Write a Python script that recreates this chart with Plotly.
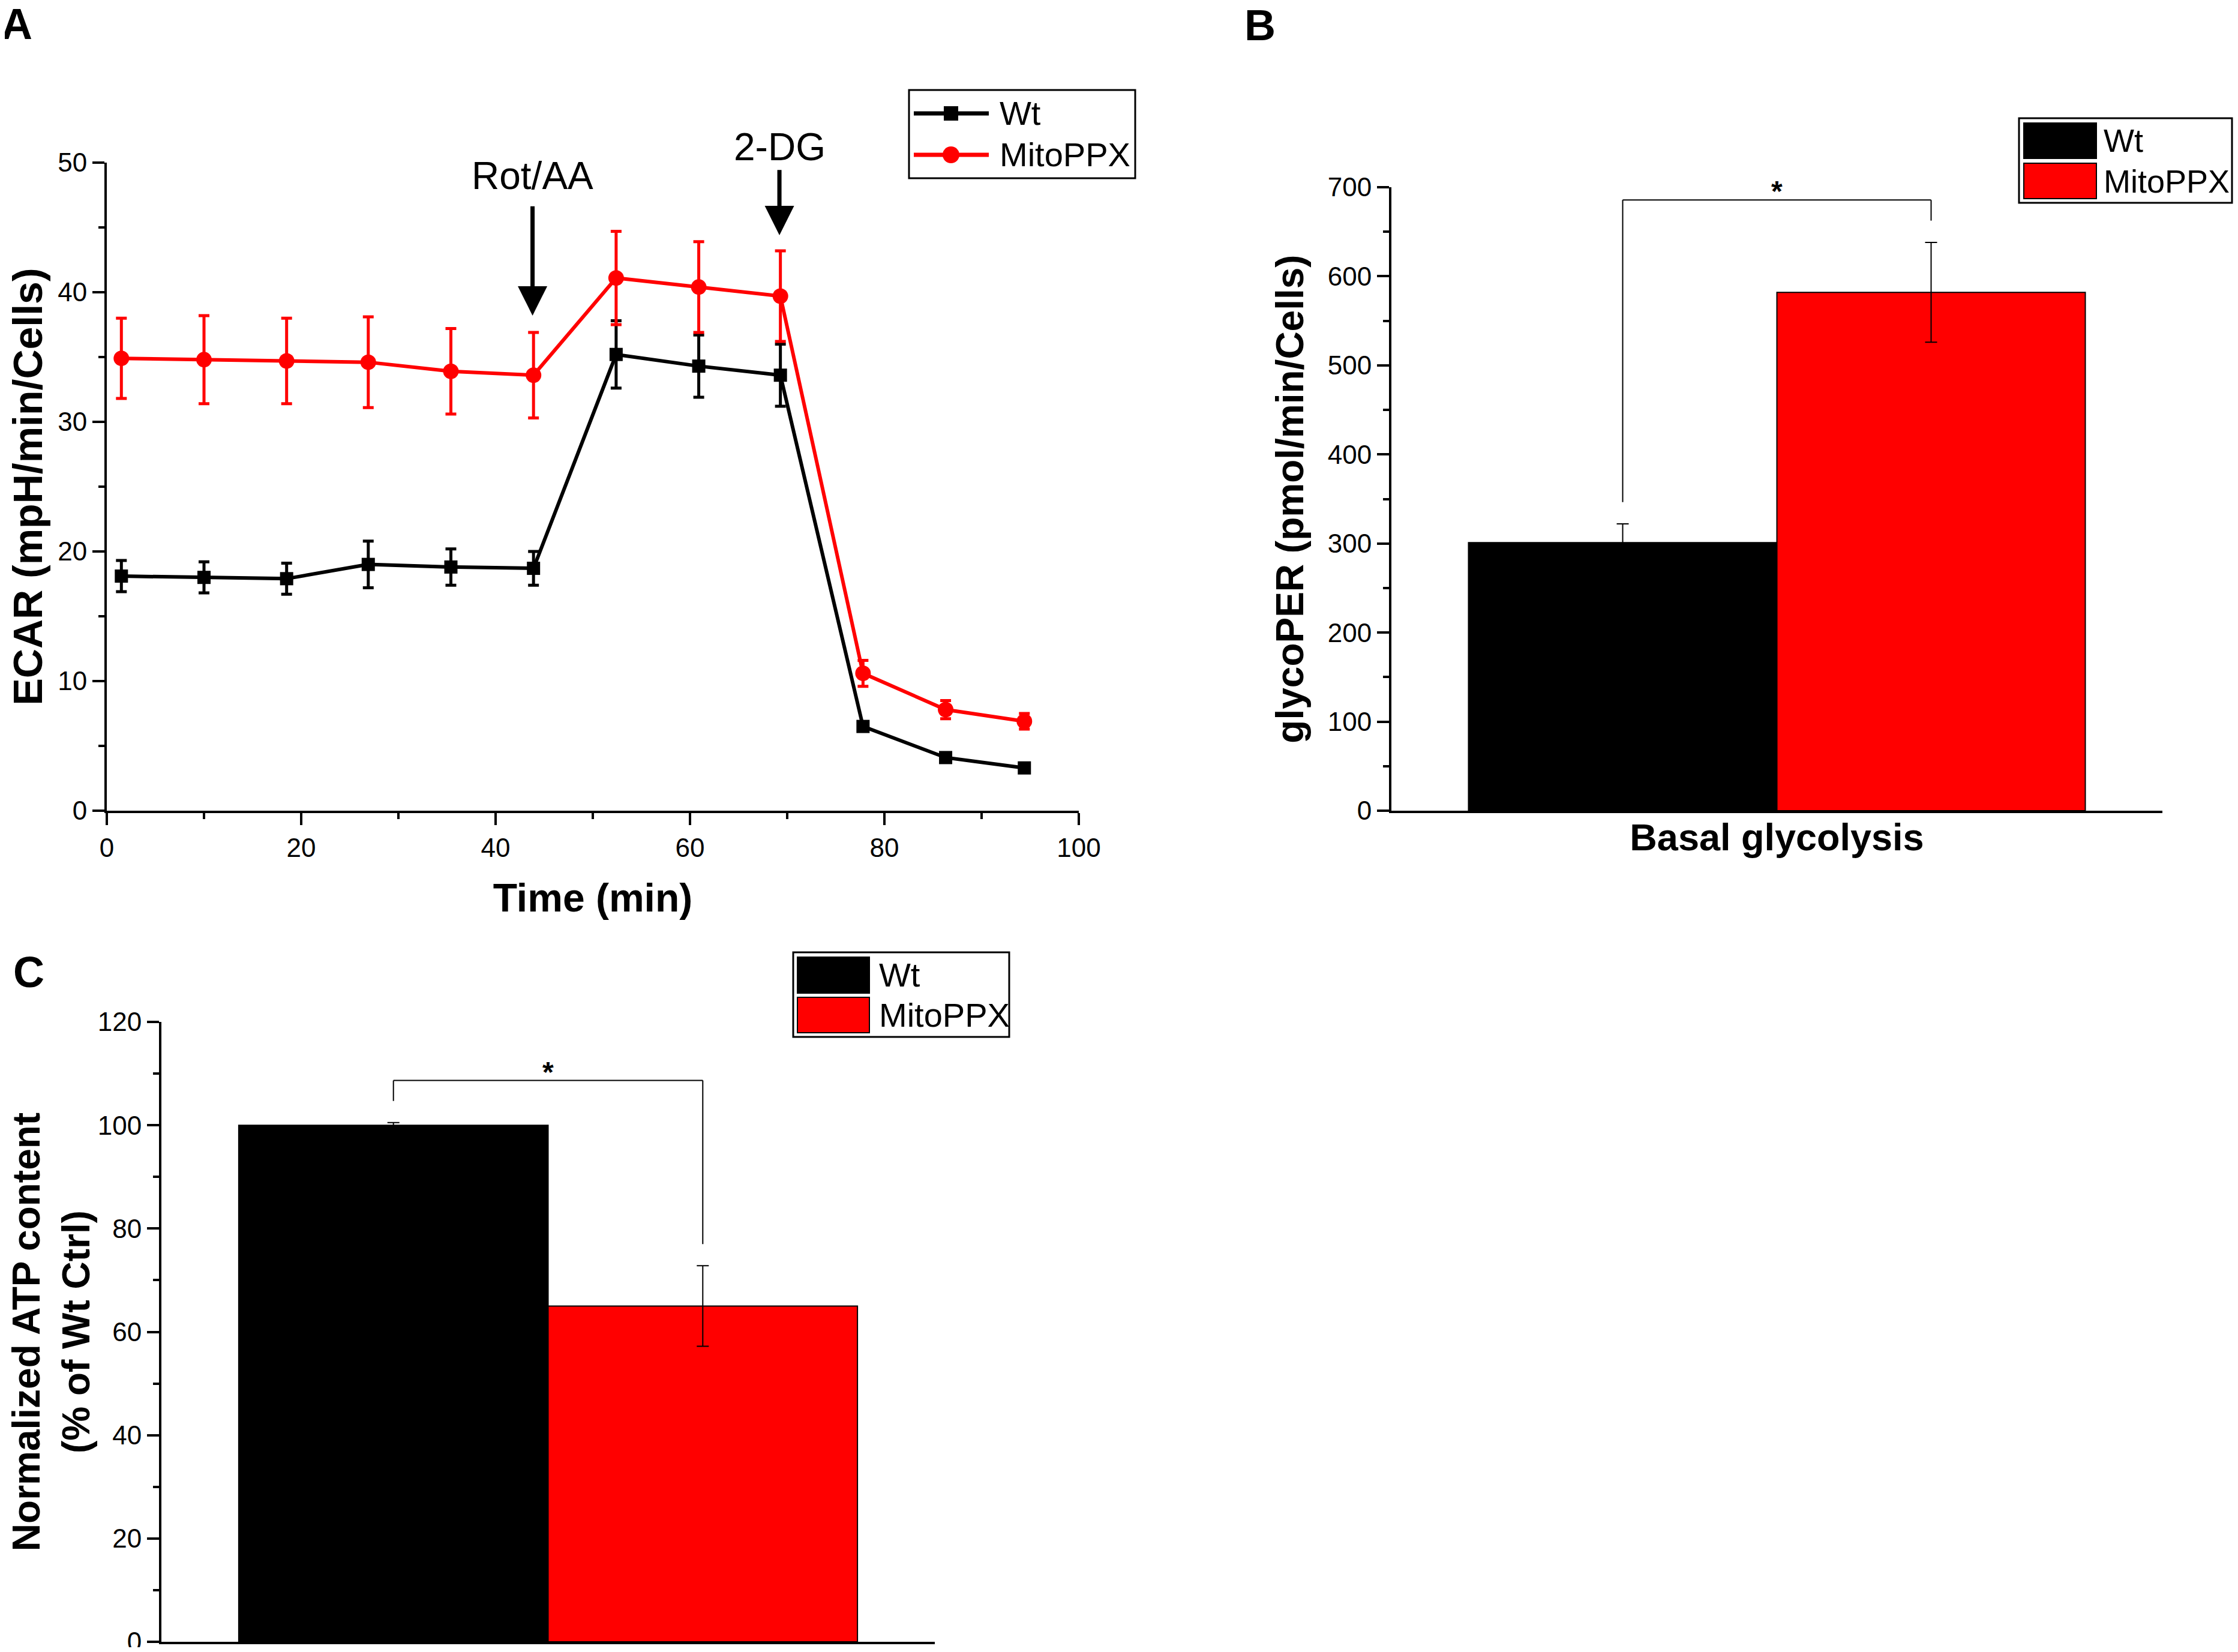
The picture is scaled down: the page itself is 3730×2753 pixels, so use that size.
import plotly.graph_objects as go

W, H = 3730, 2753
OFF = 8  # default body margin of the html page
FW, FH = W - 2 * OFF, H - 2 * OFF
FONT = "Liberation Sans, Arial, sans-serif"
RED = "#ff0000"

# ---- panel A : ECAR time course
time_min = [1.5, 10.0, 18.5, 26.9, 35.4, 43.9, 52.4, 60.9, 69.3, 77.8, 86.3, 94.4]
ecar_wt = [18.1, 18.0, 17.9, 19.0, 18.8, 18.7, 35.2, 34.3, 33.6, 6.5, 4.1, 3.3]
ecar_wt_err = [1.2, 1.2, 1.2, 1.8, 1.4, 1.3, 2.6, 2.4, 2.4, 0.3, 0.3, 0.3]
ecar_ppx = [34.9, 34.8, 34.7, 34.6, 33.9, 33.6, 41.1, 40.4, 39.7, 10.6, 7.8, 6.9]
ecar_ppx_err = [3.1, 3.4, 3.3, 3.5, 3.3, 3.3, 3.6, 3.5, 3.5, 1.0, 0.7, 0.6]
injections = ["Rot/AA", "2-DG"]
injection_time = [43.8, 69.2]
arrow_top = [46.7, 49.5]
arrow_tip = [38.2, 44.4]
label_y = [49.0, 51.2]

# ---- panel B : glycoPER
groups = ["Wt", "MitoPPX"]
category_b = ["Basal glycolysis"]
glyco = [301, 582]
glyco_err = [21, 56]

# ---- panel C : ATP content
category_c = ["ATP"]
atp = [100, 65]
atp_err = [0.5, 7.8]

colors = ["black", RED]
BARGAP = 0.2
Y_MAX_A = 50


def px(x):
    return (x - OFF) / FW


def py(y):
    return 1 - (y - OFF) / FH


fig = go.Figure()

# A
for name, y, e, c, sym, sz in [("Wt", ecar_wt, ecar_wt_err, "black", "square", 22),
                               ("MitoPPX", ecar_ppx, ecar_ppx_err, RED, "circle", 26)]:
    fig.add_trace(go.Scatter(
        x=time_min, y=y, mode="lines+markers", name=name, showlegend=False,
        line=dict(color=c, width=6),
        marker=dict(color=c, symbol=sym, size=sz),
        error_y=dict(type="data", array=e, color=c, thickness=5, width=9),
        xaxis="x", yaxis="y", cliponaxis=False))

# B and C bars
for i, g in enumerate(groups):
    fig.add_trace(go.Bar(
        x=category_b, y=[glyco[i]], name=g, showlegend=False,
        marker=dict(color=colors[i], line=dict(color="black", width=2)),
        error_y=dict(type="data", array=[glyco_err[i]], color="black", thickness=2, width=10),
        xaxis="x2", yaxis="y2"))
    fig.add_trace(go.Bar(
        x=category_c, y=[atp[i]], name=g, showlegend=False,
        marker=dict(color=colors[i], line=dict(color="black", width=2)),
        error_y=dict(type="data", array=[atp_err[i]], color="black", thickness=2, width=10),
        xaxis="x3", yaxis="y3"))

tickfont = dict(family=FONT, size=44, color="black")


def tfont(size):
    return dict(family=FONT, size=size, color="black")


def yax(domain, anchor, rng, dtick, title, size, standoff):
    return dict(domain=domain, anchor=anchor, range=rng, dtick=dtick, automargin=False,
                showline=True, linewidth=4, linecolor="black", mirror=False,
                ticks="outside", ticklen=20, tickwidth=4, tickcolor="black",
                minor=dict(ticks="outside", ticklen=10, tickwidth=4, tickcolor="black",
                           dtick=dtick / 2, showgrid=False),
                showgrid=False, zeroline=False, tickfont=tickfont, ticklabeloverflow="allow",
                title=dict(text=title, font=tfont(size), standoff=standoff))


def xbar(domain, anchor, title):
    return dict(domain=domain, anchor=anchor, range=[-0.5, 0.5], type="category",
                automargin=False,
                showline=True, linewidth=4, linecolor="black", ticks="",
                showticklabels=False, showgrid=False, zeroline=False,
                title=dict(text=title, font=tfont(63), standoff=20))


fig.update_layout(
    width=FW, height=FH, margin=dict(l=0, r=0, t=0, b=0),
    paper_bgcolor="white", plot_bgcolor="white",
    barmode="group", bargap=BARGAP, bargroupgap=0,
    font=dict(family=FONT, color="black"),
    xaxis=dict(domain=[px(178), px(1798)], anchor="y", range=[0, 100], dtick=20,
               automargin=False,
               showline=True, linewidth=4, linecolor="black",
               ticks="outside", ticklen=20, tickwidth=4, tickcolor="black",
               minor=dict(ticks="outside", ticklen=10, tickwidth=4, tickcolor="black",
                          dtick=10, showgrid=False),
               showgrid=False, zeroline=False, tickfont=tickfont,
               title=dict(text="<b>Time (min)</b>", font=tfont(66), standoff=38)),
    yaxis=yax([py(1351), py(271)], "x", [0, Y_MAX_A], 10, "<b>ECAR (mpH/min/Cells)</b>", 68, 14),
    xaxis2=xbar([px(2319), px(3604)], "y2", "<b>Basal glycolysis</b>"),
    yaxis2=yax([py(1351), py(312)], "x2", [0, 700], 100, "<b>glycoPER (pmol/min/Cells)</b>", 64, 20),
    xaxis3=xbar([px(269), px(1558)], "y3", ""),
    yaxis3=yax([py(2736), py(1703)], "x3", [0, 120], 20,
               "<b>Normalized ATP content</b><br><b>(% of Wt Ctrl)</b>", 64, 20),
)

# injection arrows + labels (labels above the axis top are anchored at the top and shifted)
px_per_unit = (1351 - 271) / Y_MAX_A
for name, t, y0, y1, ly in zip(injections, injection_time, arrow_top, arrow_tip, label_y):
    fig.add_annotation(x=t, y=y1, ax=t, ay=y0, xref="x", yref="y", axref="x", ayref="y",
                       text="", showarrow=True, arrowhead=2, arrowsize=1.4,
                       arrowwidth=7, arrowcolor="black", standoff=0)
    y_in = min(ly, Y_MAX_A)
    fig.add_annotation(x=t, y=y_in, xref="x", yref="y", text=name, showarrow=False,
                       yshift=(ly - y_in) * px_per_unit,
                       font=tfont(64))

# significance brackets
half = (1 - BARGAP) / 4
for vals, errs, rng, xr, yr in [(glyco, glyco_err, 700, "x2", "y2"), (atp, atp_err, 120, "x3", "y3")]:
    tops = [v + e for v, e in zip(vals, errs)]
    top = max(tops) + 0.068 * rng
    legs = [(-half, tops[0] + 0.035 * rng), (half, tops[1] + 0.035 * rng)]
    for xx, yb in legs:
        fig.add_shape(type="line", x0=xx, x1=xx, y0=yb, y1=top, xref=xr, yref=yr,
                      line=dict(color="black", width=2))
    fig.add_shape(type="line", x0=-half, x1=half, y0=top, y1=top, xref=xr, yref=yr,
                  line=dict(color="black", width=2))
    fig.add_annotation(x=0, y=top, xref=xr, yref=yr, text="<b>*</b>", showarrow=False,
                       yanchor="bottom", yshift=-14, font=tfont(48))

# panel letters
for letter, lx, ly in [("A", 28, 40), ("B", 2100, 42), ("C", 48, 1620)]:
    fig.add_annotation(x=px(lx), y=py(ly), xref="paper", yref="paper", text=f"<b>{letter}</b>",
                       xanchor="center", yanchor="middle",
                       showarrow=False, font=tfont(72))


def legend_box(x0, y0, x1, y1):
    fig.add_shape(type="rect", xref="paper", yref="paper", x0=px(x0), x1=px(x1),
                  y0=py(y1), y1=py(y0), line=dict(color="black", width=3), fillcolor="white")


def legend_text(x, y, text, size=56):
    fig.add_annotation(x=px(x), y=py(y), xref="paper", yref="paper", text=text,
                       showarrow=False, xanchor="left", yanchor="middle",
                       font=tfont(size))


# legend A (line + marker)
legend_box(1515, 150, 1892, 297)
for (g, c, sym, cy) in [("Wt", "black", "rect", 189), ("MitoPPX", RED, "circle", 258)]:
    fig.add_shape(type="line", xref="paper", yref="paper", x0=px(1523), x1=px(1648),
                  y0=py(cy), y1=py(cy), line=dict(color=c, width=7))
    s = 12 if sym == "rect" else 14
    fig.add_shape(type=sym, xref="paper", yref="paper", x0=px(1585 - s), x1=px(1585 + s),
                  y0=py(cy + s), y1=py(cy - s), line=dict(color=c, width=0), fillcolor=c)
    legend_text(1664, cy, g)

# legends B and C (bar swatches)
for box, sx0, sx1, rows, tx, fs in [((3365, 197, 3720, 338), 3373, 3494, [(205, 264), (272, 331)], 3504, 54),
                                    ((1322, 1587, 1682, 1728), 1329, 1449, [(1595, 1655), (1662, 1721)], 1463, 56)]:
    legend_box(*box)
    for (g, c, (r0, r1)) in zip(groups, colors, rows):
        fig.add_shape(type="rect", xref="paper", yref="paper", x0=px(sx0), x1=px(sx1),
                      y0=py(r1), y1=py(r0), line=dict(color="black", width=2), fillcolor=c)
        legend_text(tx, (r0 + r1) / 2, g, fs)

fig.write_html("out.html")
